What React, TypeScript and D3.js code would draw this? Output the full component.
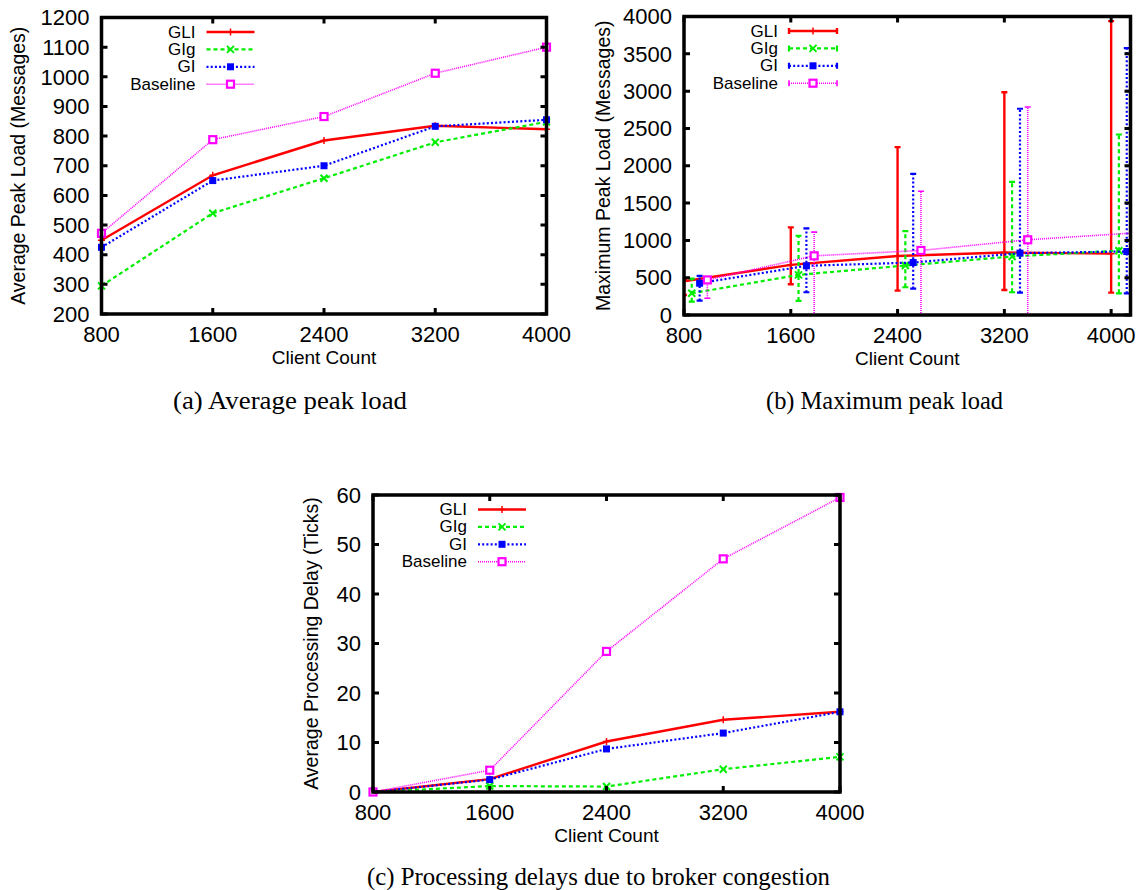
import React from 'react';
import * as d3 from 'd3';

// ---------- data ----------
const clientCounts = [800, 1600, 2400, 3200, 4000];
const seriesNames = ['GLI', 'GIg', 'GI', 'Baseline'];

// (a) average peak load (messages)
const avgGLI = [449, 668, 785, 835, 823];
const avgGIg = [295, 540, 658, 779, 848];
const avgGI = [425, 650, 700, 833, 855];
const avgBaseline = [472, 788, 866, 1012, 1100];

// (b) maximum peak load (messages): centre, low, high
const maxGLI = [452, 672, 790, 838, 822];
const maxGLILow = [268, 412, 327, 336, 300];
const maxGLIHigh = [480, 1174, 2249, 2984, 3938];
const maxGIg = [291, 538, 663, 784, 862];
const maxGIgLow = [179, 188, 372, 305, 291];
const maxGIgHigh = [488, 1062, 1125, 1783, 2419];
const maxGI = [426, 659, 703, 829, 851];
const maxGILow = [193, 305, 354, 300, 291];
const maxGIHigh = [524, 1160, 1891, 2764, 3575];
const maxBaseline = [470, 793, 865, 1008, 1100];
const maxBaselineLow = [224, 0, 0, 0, 0];
const maxBaselineHigh = [493, 1111, 1658, 2787, 3500];
const errOffsets = [0, 58, 117, 175];

// (c) average processing delay (ticks)
const delayGLI = [0, 2.6, 10.2, 14.6, 16.2];
const delayGIg = [0, 1.2, 1.1, 4.6, 7.1];
const delayGI = [0, 2.5, 8.7, 11.9, 16.2];
const delayBaseline = [0, 4.4, 28.4, 47.1, 59.5];

const xTicks = [800, 1600, 2400, 3200, 4000];
const yTicksA = [200, 300, 400, 500, 600, 700, 800, 900, 1000, 1100, 1200];
const yTicksB = [0, 500, 1000, 1500, 2000, 2500, 3000, 3500, 4000];
const yTicksC = [0, 10, 20, 30, 40, 50, 60];

// ---------- styles ----------
const styles = [
  { color: '#ff0000', dash: undefined as string | undefined, width: 2.4, marker: 'plus' },
  { color: '#00ee00', dash: '4,3', width: 2.2, marker: 'cross' },
  { color: '#0000ff', dash: '2,2.2', width: 2.2, marker: 'fsquare' },
  { color: '#ff00ff', dash: '1,1', width: 1.6, marker: 'osquare' },
];

const SANS = '"Liberation Sans", Arial, Helvetica, sans-serif';
const SERIF = '"Liberation Serif", "Times New Roman", serif';

function Marker({ x, y, kind, color }: { x: number; y: number; kind: string; color: string }) {
  if (kind === 'plus')
    return <path d={`M${x - 3.5},${y}H${x + 3.5}M${x},${y - 3.5}V${y + 3.5}`} stroke={color} strokeWidth={1.5} fill="none" />;
  if (kind === 'cross')
    return <path d={`M${x - 3.5},${y - 3.5}L${x + 3.5},${y + 3.5}M${x - 3.5},${y + 3.5}L${x + 3.5},${y - 3.5}`} stroke={color} strokeWidth={2} fill="none" />;
  if (kind === 'fsquare') return <rect x={x - 3.5} y={y - 3.5} width={7} height={7} fill={color} />;
  return <rect x={x - 3.5} y={y - 3.5} width={7} height={7} fill="#fff" stroke={color} strokeWidth={2.2} />;
}

type Panel = {
  id: string;
  left: number; right: number; top: number; bottom: number;
  xDomain: [number, number]; yDomain: [number, number]; yTicks: number[];
  ylabel: string; ylabelX: number;
  series: number[][];
  lows?: number[][]; highs?: number[][];
  offsets?: number[];
  clip?: boolean;
};

function Chart({ p }: { p: Panel }) {
  const x = d3.scaleLinear().domain(p.xDomain).range([p.left, p.right]);
  const y = d3.scaleLinear().domain(p.yDomain).range([p.bottom, p.top]);
  const clipId = `clip-${p.id}`;
  const line = d3.line<[number, number]>().x((d) => x(d[0])).y((d) => y(d[1]));
  const legendRight = p.left + 94;
  const sampleX0 = p.left + 105;
  const sampleX1 = p.left + 153;
  const cap = 3;

  const data = (
    <g clipPath={p.clip ? `url(#${clipId})` : undefined}>
      {p.series.map((vals, si) => {
        const st = styles[si];
        const off = p.offsets ? p.offsets[si] : 0;
        const pts: [number, number][] = clientCounts.map((c, i) => [c + off, vals[i]]);
        return (
          <g key={si}>
            <path d={line(pts) || ''} fill="none" stroke={st.color} strokeWidth={st.width} strokeDasharray={st.dash} />
            {p.lows && p.highs &&
              pts.map((pt, i) => {
                const xx = x(pt[0]);
                const y0 = y(p.lows![si][i]);
                const y1 = y(p.highs![si][i]);
                return (
                  <g key={i} stroke={st.color} strokeWidth={st.width} fill="none">
                    <path d={`M${xx},${y0}V${y1}`} strokeDasharray={st.dash} />
                    <path d={`M${xx - cap},${y0}H${xx + cap}M${xx - cap},${y1}H${xx + cap}`} />
                  </g>
                );
              })}
            {pts.map((pt, i) => (
              <Marker key={i} x={x(pt[0])} y={y(pt[1])} kind={st.marker} color={st.color} />
            ))}
          </g>
        );
      })}
    </g>
  );

  const tickLen = 6;
  return (
    <g>
      <defs>
        <clipPath id={clipId}>
          <rect x={p.left} y={p.top} width={p.right - p.left} height={p.bottom - p.top} />
        </clipPath>
      </defs>
      {data}
      {/* legend */}
      {seriesNames.map((name, si) => {
        const st = styles[si];
        const ly = p.top + 14.5 + si * 17.4;
        const mx = (sampleX0 + sampleX1) / 2;
        return (
          <g key={name}>
            <text x={legendRight} y={ly} textAnchor="end" dominantBaseline="central" fontFamily={SANS} fontSize={17} fill="#000">
              {name}
            </text>
            <path d={`M${sampleX0},${ly}H${sampleX1}`} stroke={st.color} strokeWidth={st.width} strokeDasharray={st.dash} />
            {p.lows && (
              <path d={`M${sampleX0},${ly - 3}V${ly + 3}M${sampleX1},${ly - 3}V${ly + 3}`} stroke={st.color} strokeWidth={st.width} />
            )}
            <Marker x={mx} y={ly} kind={st.marker} color={st.color} />
          </g>
        );
      })}
      {/* ticks */}
      {xTicks.map((t) => (
        <g key={t}>
          <path d={`M${x(t)},${p.bottom}v${-tickLen}M${x(t)},${p.top}v${tickLen}`} stroke="#000" strokeWidth={3} />
          <text x={x(t)} y={p.bottom + 28} textAnchor="middle" fontFamily={SANS} fontSize={22} fill="#000">
            {t}
          </text>
        </g>
      ))}
      {p.yTicks.map((t) => (
        <g key={t}>
          <path d={`M${p.left},${y(t)}h${tickLen}M${p.right},${y(t)}h${-tickLen}`} stroke="#000" strokeWidth={3} />
          <text x={p.left - 12} y={y(t)} dy="0.35em" textAnchor="end" fontFamily={SANS} fontSize={22} fill="#000">
            {t}
          </text>
        </g>
      ))}
      <rect x={p.left} y={p.top} width={p.right - p.left} height={p.bottom - p.top} fill="none" stroke="#000" strokeWidth={3.5} />
      <text x={(p.left + p.right) / 2} y={p.bottom + 50} textAnchor="middle" fontFamily={SANS} fontSize={19} fill="#000">
        Client Count
      </text>
      <text
        transform={`translate(${p.ylabelX},${(p.top + p.bottom) / 2}) rotate(-90)`}
        textAnchor="middle"
        dominantBaseline="central"
        fontFamily={SANS}
        fontSize={19.5}
        fill="#000"
      >
        {p.ylabel}
      </text>
    </g>
  );
}

const panels: Panel[] = [
  {
    id: 'a', left: 101.5, right: 546.5, top: 17.5, bottom: 314,
    xDomain: [800, 4000], yDomain: [200, 1200], yTicks: yTicksA,
    ylabel: 'Average Peak Load (Messages)', ylabelX: 18,
    series: [avgGLI, avgGIg, avgGI, avgBaseline],
  },
  {
    id: 'b', left: 684, right: 1130.5, top: 16.5, bottom: 315,
    xDomain: [800, 4145], yDomain: [0, 4000], yTicks: yTicksB,
    ylabel: 'Maximum Peak Load (Messages)', ylabelX: 603,
    series: [maxGLI, maxGIg, maxGI, maxBaseline],
    lows: [maxGLILow, maxGIgLow, maxGILow, maxBaselineLow],
    highs: [maxGLIHigh, maxGIgHigh, maxGIHigh, maxBaselineHigh],
    offsets: errOffsets,
    clip: true,
  },
  {
    id: 'c', left: 373, right: 840, top: 495, bottom: 792,
    xDomain: [800, 4000], yDomain: [0, 60], yTicks: yTicksC,
    ylabel: 'Average Processing Delay (Ticks)', ylabelX: 311,
    series: [delayGLI, delayGIg, delayGI, delayBaseline],
  },
];

export default function App() {
  return (
    <svg width={1144} height={890} viewBox="0 0 1144 890" style={{ position: 'absolute', left: 0, top: 0, background: '#fff' }}>
      <rect width={1144} height={890} fill="#fff" />
      {panels.map((p) => (
        <Chart key={p.id} p={p} />
      ))}
      <text x={290} y={409} textAnchor="middle" fontFamily={SERIF} fontSize={26} textLength={234} lengthAdjust="spacingAndGlyphs" fill="#000">
        (a)  Average peak load
      </text>
      <text x={884.5} y={409} textAnchor="middle" fontFamily={SERIF} fontSize={26} textLength={237} lengthAdjust="spacingAndGlyphs" fill="#000">
        (b)  Maximum peak load
      </text>
      <text x={598.5} y={885} textAnchor="middle" fontFamily={SERIF} fontSize={26} textLength={463} lengthAdjust="spacingAndGlyphs" fill="#000">
        (c)  Processing delays due to broker congestion
      </text>
    </svg>
  );
}
